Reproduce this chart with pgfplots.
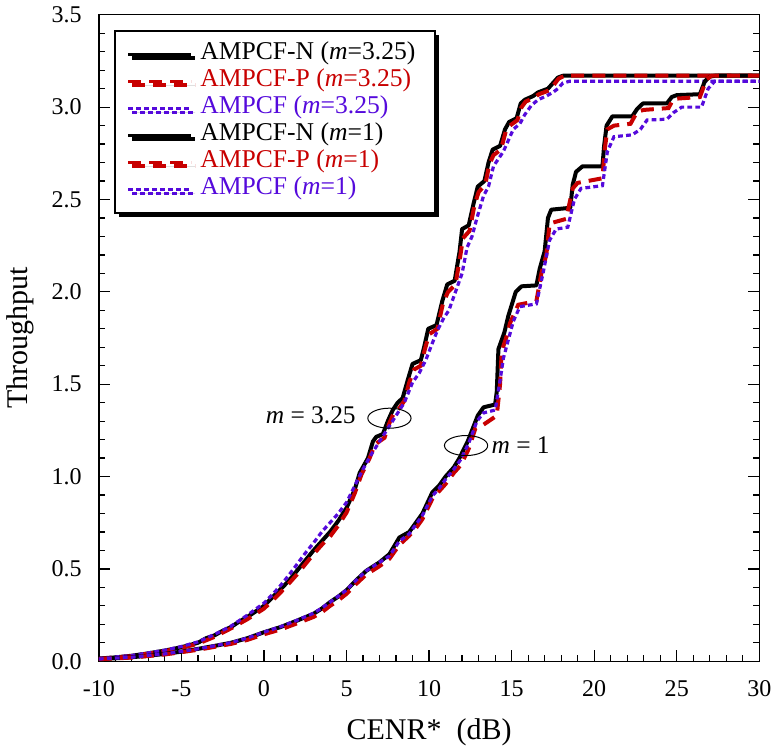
\documentclass[border=0pt]{standalone}
\usepackage{fontspec}
\setmainfont{Liberation Serif}
\usepackage{pgfplots}
\pgfplotsset{compat=1.18}
\usetikzlibrary{shadows}
\definecolor{myred}{RGB}{200,0,0}
\definecolor{myblue}{RGB}{85,10,220}
\begin{document}
\begin{tikzpicture}
\begin{axis}[
  scale only axis, width=330pt, height=323pt,
  xmin=-10, xmax=30, ymin=0, ymax=3.5,
  xtick={-10,-5,...,30}, minor x tick num=4,
  ytick={0,0.5,...,3.5}, minor y tick num=4,
  tick align=inside, xtick pos=left, ytick pos=both,
  major tick length=5.5pt, minor tick length=3pt,
  axis line style={line width=0.7pt},
  every tick/.style={line width=0.6pt, black},
  /pgf/number format/assume math mode=true,
  ticklabel style={font=\fontsize{12}{14}\selectfont},
  yticklabel style={xshift=-5pt, /pgf/number format/fixed, /pgf/number format/fixed zerofill, /pgf/number format/precision=1},
  xticklabel style={yshift=-6pt},
  xlabel={CENR*\ \ (dB)}, ylabel={Throughput},
  label style={font=\fontsize{15}{18}\selectfont},
  xlabel style={yshift=-4pt},
  ylabel style={yshift=2pt},
  legend cell align=left,
  legend image code/.code={\draw[#1, line width=1.2pt] (0pt,0pt) -- (31.5pt,0pt);},
  legend style={at={(axis description cs:0,1)}, anchor=north west,
    xshift=7.5pt, yshift=-7.5pt, draw=black, line width=1pt,
    drop shadow={shadow xshift=2pt, shadow yshift=-2pt, fill=black, opacity=1},
    font=\fontsize{12.8}{15}\selectfont, row sep=0pt,
    inner xsep=6pt, inner ysep=5pt,
    nodes={text height=9.5pt, text depth=4pt, inner ysep=0pt, inner xsep=4pt}},
]
% m = 3.25
\addplot[black, line width=2pt, line join=round] table {
-10 0.015
-9 0.021
-8 0.030
-7 0.043
-6 0.058
-5 0.076
-4 0.100
-3.5 0.125
-3 0.140
-2.5 0.165
-2 0.185
-1.5 0.215
-1 0.240
-0.5 0.270
0 0.300
0.5 0.345
1 0.390
1.5 0.435
2 0.490
2.5 0.545
3 0.600
3.5 0.650
4 0.700
4.5 0.760
5 0.830
5.5 0.930
5.8 1.020
6.3 1.100
6.6 1.190
6.8 1.215
7.2 1.230
7.5 1.300
7.8 1.360
8.1 1.400
8.4 1.425
8.7 1.520
9.0 1.610
9.5 1.630
9.7 1.700
9.95 1.800
10.45 1.820
10.8 1.950
11.1 2.040
11.55 2.060
11.85 2.220
12.0 2.340
12.4 2.360
12.7 2.480
12.95 2.570
13.35 2.600
13.6 2.700
13.85 2.770
14.3 2.790
14.6 2.880
14.85 2.920
15.3 2.940
15.55 3.020
15.8 3.040
16.3 3.060
16.6 3.080
17.2 3.100
17.5 3.130
17.8 3.160
18.1 3.170
30 3.170
};
\addlegendentry{AMPCF-N (\textit{m}=3.25)}
\addplot[myred, line width=2pt, dash pattern=on 6.5pt off 4pt] table {
-10 0.013
-8 0.028
-6 0.055
-5 0.072
-4 0.095
-3 0.132
-2 0.178
-1 0.228
0 0.285
0.5 0.328
1 0.372
1.5 0.420
2 0.470
2.5 0.525
3 0.580
3.5 0.630
4 0.675
4.5 0.735
5 0.805
5.5 0.910
5.9 1.010
6.4 1.100
6.7 1.170
6.9 1.185
7.3 1.210
7.6 1.290
7.9 1.350
8.2 1.370
8.5 1.410
8.8 1.510
9.1 1.580
9.5 1.600
9.75 1.690
10.0 1.770
10.5 1.800
10.85 1.940
11.15 2.000
11.6 2.040
11.9 2.200
12.05 2.290
12.45 2.330
12.75 2.470
13.0 2.540
13.4 2.580
13.65 2.690
13.9 2.740
14.35 2.770
14.65 2.870
14.9 2.900
15.35 2.930
15.6 3.000
15.85 3.030
16.35 3.050
16.65 3.070
17.25 3.090
17.55 3.120
17.85 3.155
18.2 3.170
30 3.170
};
\addlegendentry{\textcolor{myred}{AMPCF-P (\textit{m}=3.25)}}
\addplot[myblue, line width=1.6pt, dash pattern=on 2.4pt off 1.6pt] table {
-10 0.015
-8 0.031
-6 0.060
-5 0.080
-4 0.105
-3 0.145
-2 0.190
-1 0.250
0 0.315
0.5 0.360
1 0.410
1.5 0.465
2 0.525
2.5 0.585
3 0.640
3.5 0.700
4 0.750
4.5 0.800
5 0.860
5.5 0.950
6.0 1.040
6.5 1.120
7.0 1.190
7.5 1.260
8.0 1.330
8.5 1.400
9.0 1.510
9.4 1.560
9.8 1.630
10.1 1.700
10.5 1.790
10.9 1.860
11.2 1.900
11.6 2.000
12.0 2.100
12.3 2.240
12.6 2.300
12.9 2.400
13.3 2.520
13.6 2.570
13.9 2.680
14.2 2.720
14.5 2.760
14.8 2.820
15.1 2.880
15.5 2.910
15.8 2.960
16.2 3.010
16.6 3.040
17.1 3.060
17.5 3.080
17.8 3.100
18.1 3.130
18.5 3.140
30 3.140
};
\addlegendentry{\textcolor{myblue}{AMPCF (\textit{m}=3.25)}}
% m = 1
\addplot[black, line width=2pt, line join=round] table {
-10 0.012
-9 0.016
-8 0.022
-7 0.030
-6 0.040
-5 0.052
-4 0.067
-3 0.083
-2 0.100
-1 0.125
0 0.157
1 0.185
2 0.220
3 0.257
3.5 0.285
4 0.320
4.5 0.350
5 0.385
5.6 0.440
6.2 0.490
7.0 0.536
7.6 0.580
8.2 0.670
8.8 0.700
9.2 0.750
9.6 0.800
10.2 0.915
10.6 0.950
11.0 1.000
11.5 1.050
11.84 1.100
12.34 1.190
12.95 1.330
13.3 1.375
14.0 1.390
14.1 1.460
14.2 1.690
14.56 1.780
14.8 1.870
15.25 2.000
15.6 2.030
16.5 2.035
16.7 2.125
17.0 2.220
17.2 2.400
17.4 2.445
18.55 2.455
18.7 2.580
18.9 2.650
19.3 2.680
20.5 2.680
20.6 2.790
20.75 2.900
21.1 2.950
22.3 2.950
22.6 2.990
22.95 3.020
24.4 3.020
24.7 3.055
25.0 3.065
26.4 3.070
26.7 3.140
27.0 3.165
27.3 3.170
30 3.170
};
\addlegendentry{AMPCF-N (\textit{m}=1)}
\addplot[myred, line width=2pt, dash pattern=on 6.5pt off 4pt] table {
-10 0.011
-8 0.020
-6 0.037
-4 0.062
-2 0.094
-1 0.116
0 0.146
1 0.172
2 0.205
3 0.240
3.5 0.265
4 0.300
4.5 0.330
5 0.365
5.6 0.420
6.2 0.470
7.0 0.515
7.6 0.555
8.2 0.630
8.8 0.680
9.2 0.720
9.6 0.770
10.2 0.880
10.6 0.920
11.0 0.960
11.5 1.020
11.9 1.060
12.4 1.150
12.8 1.260
13.2 1.275
14.1 1.330
14.3 1.500
14.4 1.680
14.7 1.760
14.9 1.830
15.4 1.930
16.5 1.950
16.8 2.100
17.1 2.200
17.3 2.370
18.3 2.395
18.7 2.560
19.0 2.590
20.5 2.615
20.65 2.780
20.8 2.880
21.2 2.900
22.2 2.910
22.6 2.975
23.0 2.985
24.5 2.995
24.8 3.045
26.4 3.055
26.8 3.150
27.1 3.170
30 3.170
};
\addlegendentry{\textcolor{myred}{AMPCF-P (\textit{m}=1)}}
\addplot[myblue, line width=1.6pt, dash pattern=on 2.4pt off 1.6pt] table {
-10 0.012
-8 0.022
-6 0.040
-4 0.067
-2 0.101
-1 0.126
0 0.158
1 0.187
2 0.222
3 0.260
3.5 0.288
4 0.320
4.5 0.352
5 0.386
5.6 0.440
6.2 0.490
7.0 0.536
7.6 0.570
8.2 0.650
8.8 0.690
9.2 0.740
9.6 0.790
10.2 0.895
10.6 0.935
11.0 0.985
11.5 1.040
11.9 1.090
12.4 1.180
12.9 1.300
13.3 1.345
14.0 1.360
14.3 1.520
14.5 1.640
14.8 1.740
15.1 1.840
15.5 1.920
16.5 1.935
16.9 2.100
17.3 2.280
17.7 2.340
18.4 2.350
18.8 2.500
19.2 2.560
20.5 2.575
20.8 2.760
21.2 2.840
22.3 2.850
22.8 2.880
23.2 2.930
24.4 2.935
24.8 2.970
25.3 3.000
26.5 3.000
26.9 3.100
27.3 3.140
30 3.140
};
\addlegendentry{\textcolor{myblue}{AMPCF (\textit{m}=1)}}
% annotations
\draw[line width=0.5pt] (axis cs:7.6,1.316) ellipse [x radius=10.8pt, y radius=5pt];
\draw[line width=0.5pt] (axis cs:12.24,1.168) ellipse [x radius=10.8pt, y radius=5pt];
\node[anchor=base east, inner sep=0pt, font=\fontsize{12.7}{15}\selectfont] at (axis cs:5.58,1.285) {\textit{m} = 3.25};
\node[anchor=base west, inner sep=0pt, font=\fontsize{12.7}{15}\selectfont] at (axis cs:13.76,1.123) {\textit{m} = 1};
\end{axis}
\end{tikzpicture}
\end{document}
